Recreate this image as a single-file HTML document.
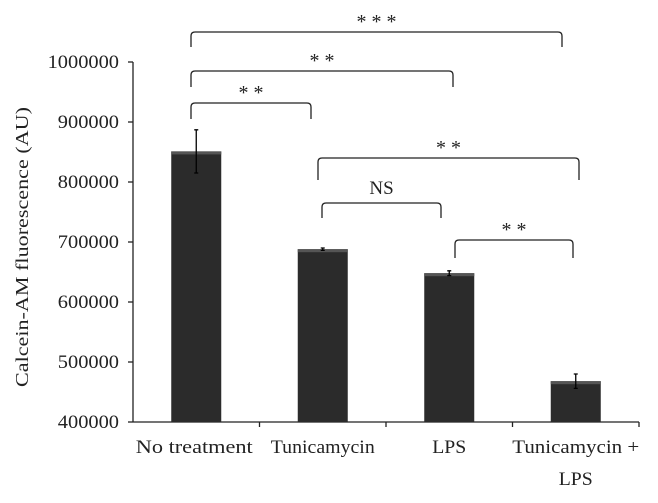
<!DOCTYPE html>
<html><head><meta charset="utf-8"><style>
body{margin:0;background:#fff}
svg text{font-family:"Liberation Serif",serif;fill:#222}
</style></head><body>
<svg id="c" width="658" height="498"></svg>
<script>
const categories=["No treatment","Tunicamycin","LPS","Tunicamycin +|LPS"];
const values=[851000,688000,648000,468000];
const errors=[36000,2000,4000,12000];
const yTicks=[400000,500000,600000,700000,800000,900000,1000000];
const NS="http://www.w3.org/2000/svg";
const svg=document.getElementById('c');
const x0=133,x1=639,y0=422,yTop=62,yMin=400000,yMax=1000000;
const band=(x1-x0)/categories.length,bw=50;
const y=v=>y0-(v-yMin)/(yMax-yMin)*(y0-yTop);
const cx=i=>x0+band*(i+0.5);
function mk(t,a,txt){const e=document.createElementNS(NS,t);for(const k in a)e.setAttribute(k,a[k]);if(txt!=null)e.textContent=txt;svg.appendChild(e);return e;}
let e=mk('line',{x1:x0,x2:x0,y1:yTop,y2:y0,stroke:'#222','stroke-width':1.3});

e=mk('line',{x1:x0,x2:x1,y1:y0,y2:y0,stroke:'#222','stroke-width':1.3});

yTicks.forEach(v=>{
 e=mk('line',{x1:x0-5,x2:x0,y1:y(v),y2:y(v),stroke:'#222','stroke-width':1.3});
 
 const s=String(v);
 e=mk('text',{x:x0-14,y:y(v)+6,'text-anchor':'end','font-size':19,textLength:s.length*10.2,lengthAdjust:'spacingAndGlyphs'},s);
 
});
for(let i=1;i<=categories.length;i++){
 e=mk('line',{x1:x0+band*i,x2:x0+band*i,y1:y0,y2:y0+5,stroke:'#222','stroke-width':1.3});
 
}
e=mk('text',{x:0,y:0,'text-anchor':'middle','font-size':18,textLength:280,lengthAdjust:'spacingAndGlyphs',transform:'translate(28,247) rotate(-90)'},'Calcein-AM fluorescence (AU)');

const lw={"No treatment":117,"Tunicamycin":104,"LPS":34,"Tunicamycin +":127};
categories.forEach((c,i)=>{
 const p=c.split('|');
 p.forEach((s,j)=>{
  e=mk('text',{x:cx(i)-(i==0?2:0),y:453+j*32,'text-anchor':'middle','font-size':19,textLength:lw[s],lengthAdjust:'spacingAndGlyphs'},s);
  
 });
 e=mk('rect',{x:cx(i)-bw/2,y:y(values[i]),width:bw,height:y0-y(values[i]),fill:'#2b2b2b'});
 
 e=mk('rect',{x:cx(i)-bw/2,y:y(values[i]),width:bw,height:3,fill:'#555'});
 
 const t=y(values[i]+errors[i]),b=y(values[i]-errors[i]);
 e=mk('path',{d:`M${cx(i)} ${t}V${b}M${cx(i)-2} ${t}h4M${cx(i)-2} ${b}h4`,stroke:'#000','stroke-width':1.3,fill:'none'});
 
});
const br=[[191,562,32,47,'* * *'],[191,453,71,87,'* *'],[191,311,103,119,'* *'],[318,579,158,180,'* *'],[322,441,203,218,'NS'],[455,573,240,258,'* *']];
br.forEach(b=>{
 e=mk('path',{d:`M${b[0]} ${b[3]}V${b[2]+4}Q${b[0]} ${b[2]} ${b[0]+4} ${b[2]}H${b[1]-4}Q${b[1]} ${b[2]} ${b[1]} ${b[2]+4}V${b[3]}`,stroke:'#222','stroke-width':1.3,fill:'none'});
 
 e=mk('text',{x:(b[0]+b[1])/2,y:b[2]-(b[4]=='NS'?9:4),'text-anchor':'middle','font-size':b[4]=='NS'?19:20},b[4]);
 
});
</script>
</body></html>
